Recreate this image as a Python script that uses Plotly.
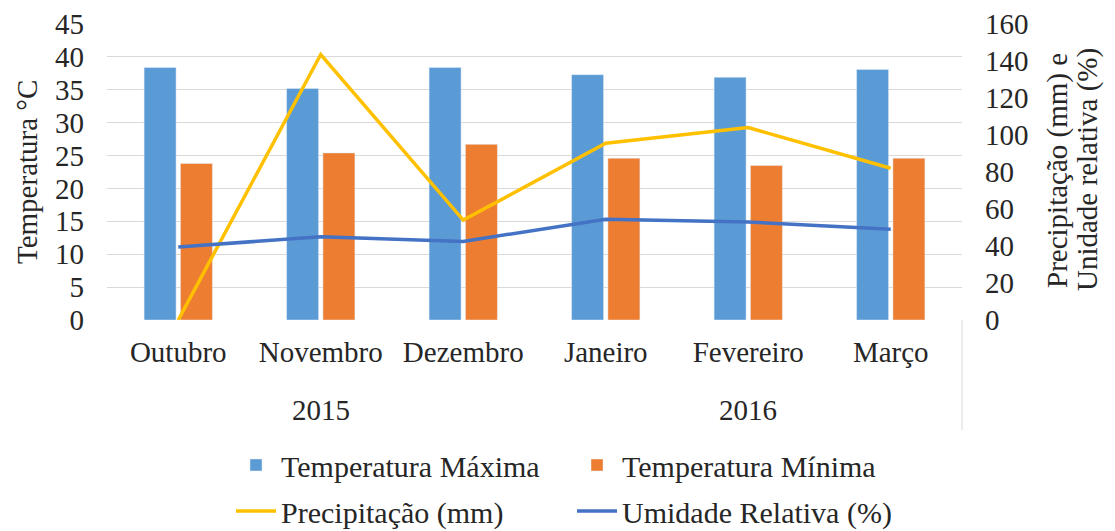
import plotly.graph_objects as go

months = ["Outubro", "Novembro", "Dezembro", "Janeiro", "Fevereiro", "Março"]
years = ["2015", "2016"]
year_centers = ["Novembro", "Fevereiro"]
temp_max = [38.4, 35.2, 38.4, 37.3, 36.9, 38.1]
temp_min = [23.8, 25.4, 26.7, 24.6, 23.5, 24.6]
precip = [0, 143.5, 54, 95.5, 104, 82]
umidade = [39.5, 45, 42.5, 54.5, 53, 49]

FONT = "Liberation Serif"
TXT = "#262626"
GRID = "#D9D9D9"

fig = go.Figure()
fig.add_trace(go.Bar(x=months, y=temp_max, name="Temperatura Máxima",
                     marker_color="#5B9BD5", legend="legend"))
fig.add_trace(go.Bar(x=months, y=temp_min, name="Temperatura Mínima",
                     marker_color="#ED7D31", legend="legend"))
fig.add_trace(go.Scatter(x=months, y=precip, name="Precipitação (mm)", mode="lines",
                         line=dict(color="#FFC000", width=3.5), yaxis="y2", legend="legend2"))
fig.add_trace(go.Scatter(x=months, y=umidade, name="Umidade Relativa (%)", mode="lines",
                         line=dict(color="#4472C4", width=3.5), yaxis="y2", legend="legend2"))

OFF = 8  # page body margin
W, H = 1115 - OFF, 531 - OFF
L, T = 107 - OFF, 24 - OFF
R = W - (962 - OFF)
B = H - (320 - OFF)
pw, ph = W - L - R, H - T - B

def px_x(x):
    return (x - OFF - L) / pw

def px_y(y):
    return (H - B - (y - OFF)) / ph

annotations = []
for yr, c in zip(years, year_centers):
    annotations.append(dict(x=c, xref="x", y=px_y(410), yref="paper", text=yr,
                            showarrow=False, font=dict(family=FONT, size=29, color=TXT),
                            xanchor="center", yanchor="middle"))
annotations.append(dict(x=px_x(27), xref="paper", y=px_y(172), yref="paper",
                        text="Temperatura °C", textangle=-90, showarrow=False,
                        font=dict(family=FONT, size=29, color=TXT),
                        xanchor="center", yanchor="middle"))
annotations.append(dict(x=px_x(1057), xref="paper", y=px_y(171), yref="paper",
                        text="Precipitação (mm) e", textangle=-90, showarrow=False,
                        font=dict(family=FONT, size=29, color=TXT),
                        xanchor="center", yanchor="middle"))
annotations.append(dict(x=px_x(1087), xref="paper", y=px_y(170), yref="paper",
                        text="Unidade relativa (%)", textangle=-90, showarrow=False,
                        font=dict(family=FONT, size=29, color=TXT),
                        xanchor="center", yanchor="middle"))

legend_common = dict(orientation="h", font=dict(family=FONT, size=30, color=TXT),
                     bgcolor="rgba(0,0,0,0)", itemwidth=40,
                     entrywidth=286, entrywidthmode="pixels",
                     xanchor="left", yanchor="middle", traceorder="normal")

fig.update_layout(
    width=W, height=H,
    margin=dict(l=L, r=R, t=T, b=B, autoexpand=False),
    paper_bgcolor="white", plot_bgcolor="white",
    font=dict(family=FONT, size=29, color=TXT),
    barmode="group", bargap=0.49, bargroupgap=0.12,
    xaxis=dict(showgrid=False, showline=False, ticks="", zeroline=False,
               tickfont=dict(family=FONT, size=29, color=TXT), ticklabelstandoff=12),
    yaxis=dict(range=[0, 45], dtick=5, showgrid=True, gridcolor=GRID, gridwidth=1,
               zeroline=False, showline=False, ticks="",
               tickfont=dict(family=FONT, size=29, color=TXT), ticklabelstandoff=22),
    yaxis2=dict(range=[0, 160], dtick=20, overlaying="y", side="right", showgrid=False,
                zeroline=False, showline=False, ticks="",
                tickfont=dict(family=FONT, size=29, color=TXT), ticklabelstandoff=22),
    legend=dict(x=px_x(231), y=px_y(465), **legend_common),
    legend2=dict(x=px_x(231), y=px_y(511), **legend_common),
    annotations=annotations,
    shapes=[dict(type="line", xref="paper", yref="paper", x0=1, x1=1,
                 y0=0, y1=px_y(430), line=dict(color=GRID, width=1))],
)

fig.write_html("out.html")
